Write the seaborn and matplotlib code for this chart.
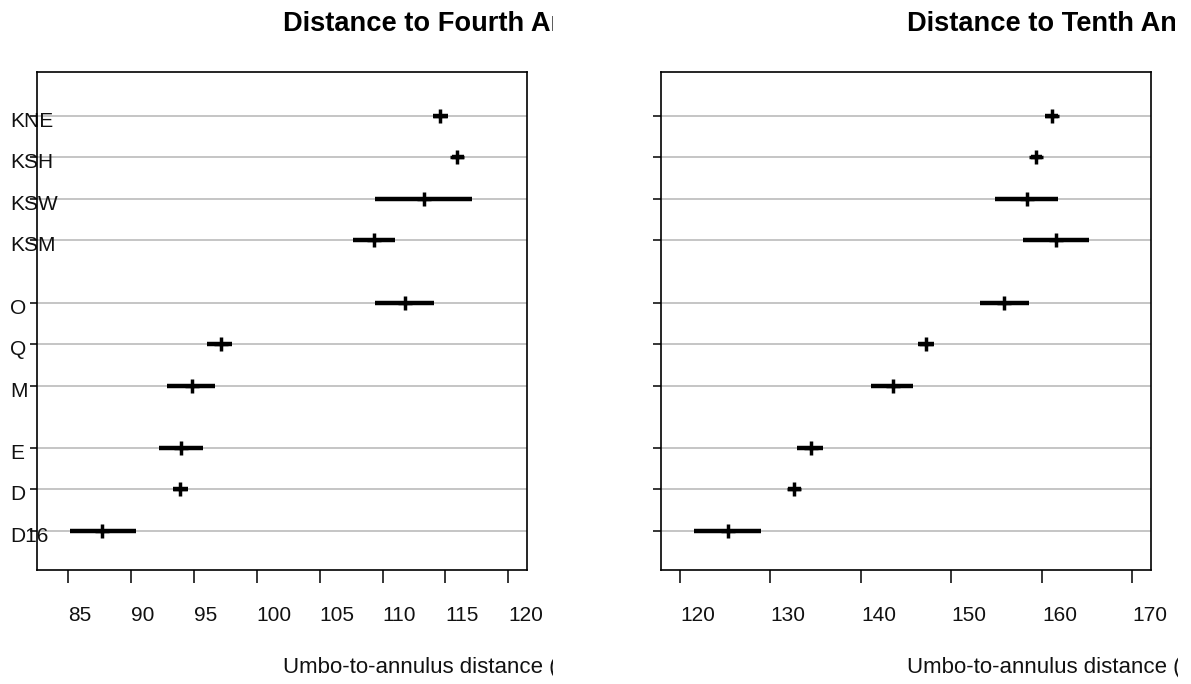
import matplotlib
matplotlib.use("Agg")
import matplotlib.pyplot as plt
import seaborn as sns
import pandas as pd
from matplotlib.transforms import ScaledTranslation, Bbox, TransformedBbox

# ---- data ----
sites = ["KNE", "KSH", "KSW", "KSM", "O", "Q", "M", "E", "D", "D16"]

fourth_mean = [114.6, 115.9, 113.3, 109.3, 111.8, 97.15, 94.85, 94.0, 93.9, 87.7]
fourth_low = [114.0, 115.5, 109.4, 107.65, 109.4, 96.0, 92.85, 92.2, 93.3, 85.15]
fourth_high = [115.25, 116.45, 117.1, 111.0, 114.1, 98.0, 96.7, 95.7, 94.5, 90.35]

tenth_mean = [161.1, 159.35, 158.3, 161.5, 155.85, 147.2, 143.5, 134.45, 132.55, 125.25]
tenth_low = [160.3, 158.8, 154.8, 157.9, 153.15, 146.35, 141.1, 132.9, 131.9, 121.6]
tenth_high = [161.8, 160.0, 161.8, 165.2, 158.6, 148.1, 145.8, 135.85, 133.35, 128.9]

fourth_ticks = [85, 90, 95, 100, 105, 110, 115, 120]
tenth_ticks = [120, 130, 140, 150, 160, 170]

titles = ["Distance to Fourth Annulus", "Distance to Tenth Annulus"]
xlabel = "Umbo-to-annulus distance (mm)"

# ---- layout (row positions, with gaps between groups) ----
row_pos = [11, 10, 9, 8, 6.5, 5.5, 4.5, 3, 2, 1]

W, H = 1191, 684
sns.set_theme(style="white")
plt.rcParams["font.family"] = ["Liberation Sans", "DejaVu Sans"]

fig = plt.figure(figsize=(W / 100, H / 100), dpi=100)

panels = [
    dict(left=37, right=527, mean=fourth_mean, low=fourth_low, high=fourth_high,
         ticks=fourth_ticks, xlim=(82.5, 121.5), labels=True, title_x=283,
         clip_t=553, clip_x=553, ytick_len=7),
    dict(left=661, right=1151, mean=tenth_mean, low=tenth_low, high=tenth_high,
         ticks=tenth_ticks, xlim=(117.9, 172.05), labels=False, title_x=907,
         clip_t=1175, clip_x=1178, ytick_len=8),
]

top_px, bot_px = 72, 570
for i, p in enumerate(panels):
    ax = fig.add_axes([p["left"] / W, 1 - bot_px / H, (p["right"] - p["left"]) / W, (bot_px - top_px) / H])
    df = pd.DataFrame({"site": sites, "pos": row_pos, "mean": p["mean"],
                       "low": p["low"], "high": p["high"]})
    ax.hlines(df["pos"], df["low"], df["high"], color="black", lw=3.2, zorder=3)
    sns.scatterplot(data=df, x="mean", y="pos", marker="+", s=95, color="black",
                    linewidth=2.5, ax=ax, zorder=4, legend=False)
    ax.set_xlim(*p["xlim"])
    ax.set_ylim(0.06, 12.06)
    ax.set_xticks(p["ticks"])
    ax.set_xticklabels([str(t) for t in p["ticks"]])
    ax.set_yticks(row_pos)
    ax.grid(axis="y", color="#c0c0c0", lw=1.3, zorder=0)
    ax.grid(axis="x", visible=False)
    ax.set_axisbelow(True)
    ax.set_xlabel("")
    ax.set_ylabel("")
    for s in ax.spines.values():
        s.set_color("black")
        s.set_linewidth(1.2)
    ax.tick_params(axis="x", bottom=True, length=13 * 0.72, width=1.1, color="black",
                   labelsize=15, pad=16.5, labelcolor="#111111")
    ax.tick_params(axis="y", left=True, length=p["ytick_len"] * 0.72, width=1.1, color="black",
                   labelsize=15, pad=(27 - p["ytick_len"]) * 0.72, labelcolor="#111111")
    if p["labels"]:
        ax.set_yticklabels(sites)
    else:
        ax.set_yticklabels([])
    for lbl in ax.get_xticklabels():
        lbl.set_horizontalalignment("left")
    shift = ScaledTranslation(0, -3.5 / 100, fig.dpi_scale_trans)
    for lbl in ax.get_yticklabels():
        lbl.set_horizontalalignment("left")
        lbl.set_transform(lbl.get_transform() + shift)

    # the reference clips titles and axis labels at the panel's right margin
    clip_t = TransformedBbox(Bbox([[0, 0], [p["clip_t"] / W, 1]]), fig.transFigure)
    clip_x = TransformedBbox(Bbox([[0, 0], [p["clip_x"] / W, 1]]), fig.transFigure)
    t = fig.text(p["title_x"] / W, 1 - 31 / H, titles[i], fontsize=19.6, fontweight="bold",
                 ha="left", va="baseline", color="black")
    t.set_clip_box(clip_t)
    t.set_clip_on(True)
    xl = fig.text(p["title_x"] / W, 1 - 673 / H, xlabel, fontsize=16,
                  ha="left", va="baseline", color="#111111")
    xl.set_clip_box(clip_x)
    xl.set_clip_on(True)

fig.savefig("out.png", dpi=100)
